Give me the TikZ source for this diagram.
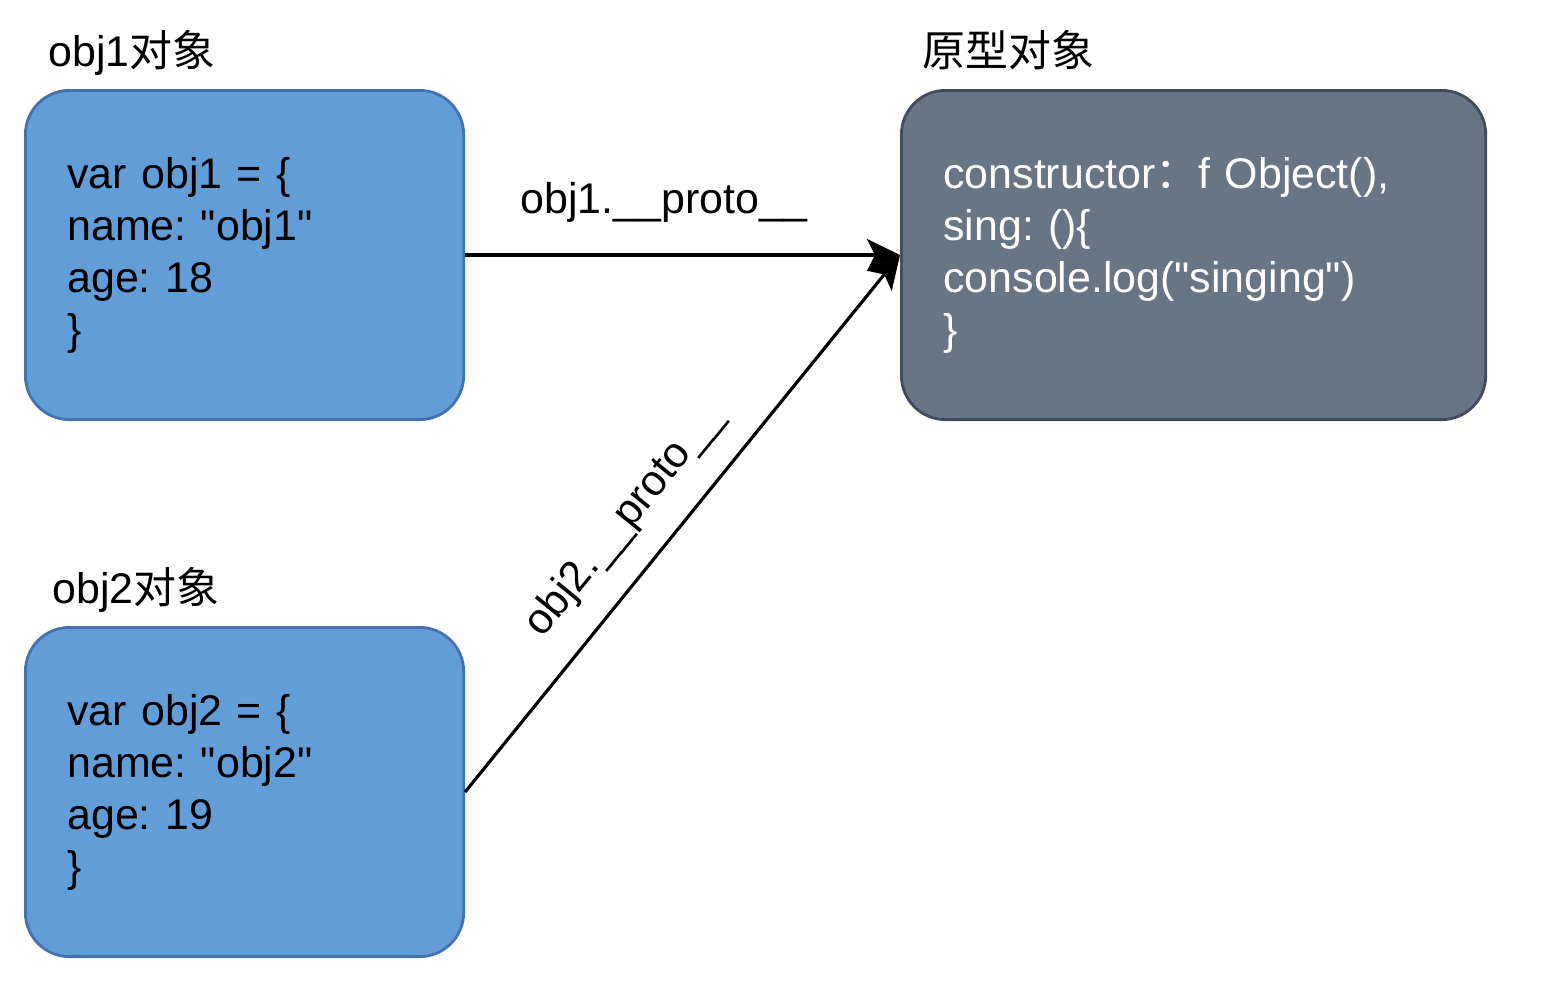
\documentclass[tikz,border=0pt]{standalone}
\usepackage{fontspec}
\setmainfont{Liberation Sans}[Ligatures=TeXOff]
\newfontfamily\cjk{Noto Sans CJK SC}
\usetikzlibrary{arrows.meta,calc}
\definecolor{boxblue}{RGB}{99,157,216}
\definecolor{boxblueline}{RGB}{68,114,176}
\definecolor{protofill}{RGB}{104,117,133}
\definecolor{protoline}{RGB}{66,76,92}
\frenchspacing
\begin{document}
\begin{tikzpicture}[x=0.01cm,y=-0.01cm,
  font=\fontsize{12.2pt}{14.8pt}\selectfont,
  objbox/.style={draw=boxblueline, fill=boxblue, line width=0.8pt, rounded corners=0.44cm,
    anchor=north west, align=left, inner xsep=0.42cm, inner ysep=0pt,
    minimum height=3.29cm, text width=3.54cm},
  protobox/.style={objbox, draw=protoline, fill=protofill, text=white, text width=5.0cm},
  title/.style={anchor=base west, inner sep=0pt},
  link/.style={-{Stealth[length=0.33cm,width=0.32cm,inset=0.08cm]}, line width=0.9pt},
  linklabel/.style={anchor=base, inner sep=0pt}]
\useasboundingbox (0,0) rectangle (1546,996);

\node[objbox] (o1) at (24,89) {var obj1 = \{\\name: "obj1"\\age: 18\\\}};
\node[objbox] (o2) at (24,626) {var obj2 = \{\\name: "obj2"\\age: 19\\\}};
\node[protobox] (p) at (900,89) {constructor{\cjk ：}f Object(),\\sing: ()\{\\console.log("singing")\\\}};

\node[title] (t1) at (48,66) {obj1{\cjk 对象}};
\node[title] (t2) at (52,603) {obj2{\cjk 对象}};
\node[title] (t3) at (922,66) {{\cjk 原型对象}};

\draw[link] (o1.east) -- (p.west) node[linklabel, pos=0.457, yshift=0.41cm] (l1) {obj1.\_\_proto\_\_};
\draw[link] (o2.east) -- (p.west);
\node[linklabel, rotate=50.8] (l2) at ($(o2.east)!0.45!(p.west)!0.36cm!90:(p.west)$) {obj2.\_\_proto\_\_};
\end{tikzpicture}
\end{document}
